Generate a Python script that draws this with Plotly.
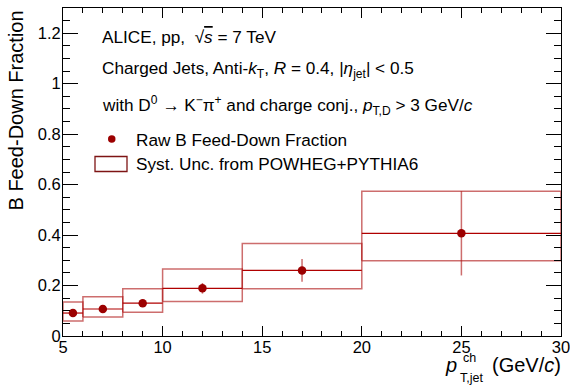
import plotly.graph_objects as go

# Data
bin_lo = [5, 6, 8, 10, 14, 20]
bin_hi = [6, 8, 10, 14, 20, 30]
x_center = [5.5, 7, 9, 12, 17, 25]
fraction = [0.091, 0.107, 0.130, 0.189, 0.260, 0.407]
stat_err = [0.005, 0.006, 0.008, 0.021, 0.045, 0.167]
syst_lo = [0.059, 0.075, 0.094, 0.137, 0.187, 0.298]
syst_hi = [0.135, 0.156, 0.187, 0.266, 0.367, 0.574]

box_col = "rgba(175,20,20,0.62)"
line_col = "#b00000"
mk_col = "#9c0000"

fig = go.Figure()

# systematic boxes
bx, by = [], []
for lo, hi, ylo, yhi in zip(bin_lo, bin_hi, syst_lo, syst_hi):
    bx += [lo, hi, hi, lo, lo, None]
    by += [ylo, ylo, yhi, yhi, ylo, None]
fig.add_trace(go.Scatter(x=bx, y=by, mode="lines",
                         line=dict(color=box_col, width=1.5),
                         showlegend=False, hoverinfo="skip", cliponaxis=False))
# central lines
cx, cy = [], []
for lo, hi, v in zip(bin_lo, bin_hi, fraction):
    cx += [lo, hi, None]
    cy += [v, v, None]
fig.add_trace(go.Scatter(x=cx, y=cy, mode="lines",
                         line=dict(color=line_col, width=1.2),
                         showlegend=False, hoverinfo="skip"))
# points
fig.add_trace(go.Scatter(x=x_center, y=fraction, mode="markers",
                         marker=dict(color=mk_col, size=8.5),
                         error_y=dict(type="data", array=stat_err, color=box_col,
                                      thickness=1.5, width=0),
                         showlegend=False))

# plot-area mapping helpers (px -> paper)
L, R, T, B = 63, 561, 8, 336
W, H = 570, 387
def px(x):
    return (x - L) / (R - L)
def py(y):
    return (B - y) / (B - T)

font = "Liberation Sans, Arial, sans-serif"
anns = []
texts = [
    (37, 100, "ALICE, pp,  √<span style='text-decoration:overline'><i>s</i></span> = 7 TeV"),
    (70, 100, "Charged Jets, Anti-<i>k</i><sub>T</sub>, <i>R</i> = 0.4, |<i>η</i><sub>jet</sub>| &lt; 0.5"),
    (105, 100, "with D<sup>0</sup> → K<sup>−</sup>π<sup>+</sup> and charge conj., <i>p</i><sub>T,D</sub> &gt; 3 GeV/<i>c</i>"),
    (140, 134, "Raw B Feed-Down Fraction"),
    (163.5, 134, "Syst. Unc. from POWHEG+PYTHIA6"),
]
for yy, xx, t in texts:
    anns.append(dict(x=px(xx), y=py(yy), xref="paper", yref="paper",
                     text=t, showarrow=False, xanchor="left", yanchor="middle",
                     font=dict(family=font, size=17.2, color="black")))

# y-axis title
anns.append(dict(x=px(15), y=py(110.5), xref="paper", yref="paper",
                 text="B Feed-Down Fraction", textangle=-90, showarrow=False,
                 xanchor="center", yanchor="middle",
                 font=dict(family=font, size=20, color="black")))

# x-axis title pieces
anns.append(dict(x=px(459), y=py(365), xref="paper", yref="paper", text="<i>p</i>",
                 showarrow=False, xanchor="right", yanchor="middle",
                 font=dict(family=font, size=20, color="black")))
anns.append(dict(x=px(461), y=py(358), xref="paper", yref="paper", text="ch",
                 showarrow=False, xanchor="left", yanchor="middle",
                 font=dict(family=font, size=12.5, color="black")))
anns.append(dict(x=px(458), y=py(377.5), xref="paper", yref="paper", text="T,jet",
                 showarrow=False, xanchor="left", yanchor="middle",
                 font=dict(family=font, size=12.5, color="black")))
anns.append(dict(x=px(563), y=py(365), xref="paper", yref="paper", text="(GeV/<i>c</i>)",
                 showarrow=False, xanchor="right", yanchor="middle",
                 font=dict(family=font, size=20, color="black")))

shapes = [
    dict(type="circle", xref="paper", yref="paper",
         x0=px(108), x1=px(115.5), y0=py(142.75), y1=py(135.25),
         fillcolor=mk_col, line=dict(width=0)),
    dict(type="rect", xref="paper", yref="paper",
         x0=px(95), x1=px(127), y0=py(171.5), y1=py(156.5),
         fillcolor="rgba(0,0,0,0)", line=dict(color="#7e1414", width=1.3)),
]

fig.update_layout(
    width=W, height=H,
    margin=dict(l=L, r=W - R, t=T, b=H - B, autoexpand=False),
    plot_bgcolor="white", paper_bgcolor="white",
    font=dict(family=font, size=16.5, color="black"),
    annotations=anns, shapes=shapes,
    xaxis=dict(range=[5, 30], tickvals=[5, 10, 15, 20, 25, 30],
               ticks="inside", ticklen=10, tickwidth=1, tickcolor="black",
               minor=dict(ticks="inside", dtick=1, ticklen=5, tickcolor="black"),
               showline=True, linecolor="black", linewidth=1, mirror="ticks",
               showgrid=False, zeroline=False, automargin=False,
               ticklabelstandoff=-4, ticklabeloverflow="allow",
               tickfont=dict(size=16.5)),
    yaxis=dict(range=[0, 1.3], tickvals=[0, 0.2, 0.4, 0.6, 0.8, 1, 1.2],
               ticktext=["0", "0.2", "0.4", "0.6", "0.8", "1", "1.2"],
               ticks="inside", ticklen=15, tickwidth=1, tickcolor="black",
               minor=dict(ticks="inside", dtick=0.05, ticklen=7, tickcolor="black"),
               showline=True, linecolor="black", linewidth=1, mirror="ticks",
               showgrid=False, zeroline=False, automargin=False,
               ticklabelstandoff=-2, ticklabeloverflow="allow",
               tickfont=dict(size=16.5)),
)

fig.write_html("out.html", config={"displayModeBar": False},
               post_script="document.body.style.margin='0px';document.body.style.overflow='hidden';")
